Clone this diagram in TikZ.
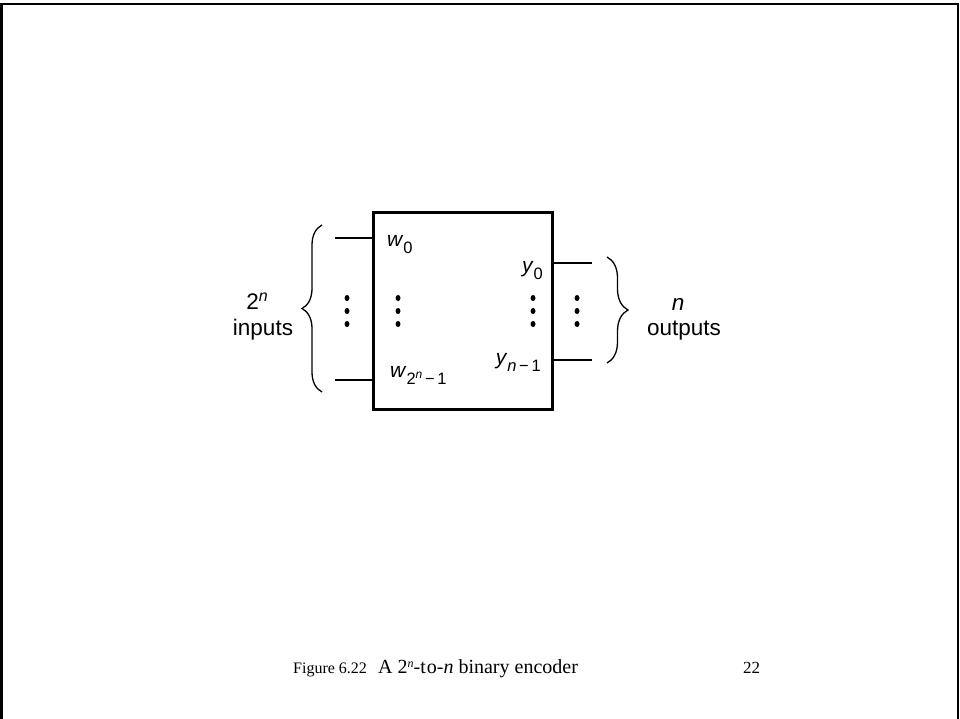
\documentclass[tikz,border=0pt]{standalone}
\usepackage{fontspec}
\setmainfont{Liberation Serif}
\setsansfont{Liberation Sans}
\usetikzlibrary{positioning,decorations.pathreplacing}
\newcommand\encsub[1]{\raisebox{-7pt}{\fontsize{16.5}{16.5}\selectfont #1}}
\newcommand\encsup[2]{\raisebox{#1}{\fontsize{#2}{#2}\selectfont\textit{n}}}
\tikzset{
  encframe/.style={line width=2.8pt},
  encbox/.style={draw, line width=3pt, minimum width=179pt, minimum height=196pt,
                 inner sep=0pt},
  encwire/.style={line width=1.3pt},
  encbrace/.style={decorate, decoration={brace, amplitude=#1}, line width=1.3pt},
  enclabel/.style={font=\sffamily\fontsize{21}{21}\selectfont, inner sep=0pt},
  encside/.style={font=\sffamily\fontsize{22.5}{26}\selectfont, inner sep=0pt,
                  anchor=base},
  enccap/.style={font=\rmfamily\fontsize{20}{20}\selectfont, inner sep=0pt,
                 anchor=base west},
}
\begin{document}
\begin{tikzpicture}[x=1pt,y=-1pt]
  \useasboundingbox (0,0) rectangle (960,719);
  \draw[encframe] (1.5,719) -- (1.5,4) -- (958,4) -- (958,719);

  % the encoder block
  \node[encbox] (enc) at (462.5,311) {};

  % wires in and out
  \coordinate (wfirst) at (335,238);
  \coordinate (wlast)  at (335,380);
  \coordinate (yfirst) at (592,263);
  \coordinate (ylast)  at (592,360);
  \draw[encwire] (wfirst) -- (wfirst -| enc.west);
  \draw[encwire] (wlast)  -- (wlast -| enc.west);
  \draw[encwire] (yfirst -| enc.east) -- (yfirst);
  \draw[encwire] (ylast -| enc.east)  -- (ylast);

  % pin names
  \node[enclabel,anchor=base west] (w0) at (387,247) {\textit{w}\encsub{0}};
  \node[enclabel,anchor=base west] (wn) at (390,377)
    {\textit{w}\encsub{2\encsup{6pt}{12}\,−\,1}};
  \node[enclabel,anchor=base east] (y0) at (543,272) {\textit{y}\encsub{0}};
  \node[enclabel,anchor=base east] (yn) at (541,364)
    {\textit{y}\encsub{\textit{n}\,−\,1}};

  % vertical dots
  \foreach \x in {347,398,533,577}
    \foreach \y in {298,311,324}
      {\fill (\x,\y) ellipse[x radius=2.5, y radius=3];}

  % braces and what they count
  \coordinate (lbrlo) at (322,392);
  \coordinate (lbrhi) at (322,225);
  \coordinate (rbrhi) at (607,257);
  \coordinate (rbrlo) at (607,363);
  \draw[encbrace=20pt] (lbrlo) -- (lbrhi);
  \draw[encbrace=21pt] (rbrhi) -- (rbrlo);
  \node[encside] (incount) at (257,309) {2\encsup{8pt}{16}};
  \node[encside] (inname)  at (263,335) {inputs};
  \node[encside] (outcount) at (678,310) {\textit{n}};
  \node[encside] (outname)  at (684,335) {outputs};

  % caption
  \node[enccap,font=\rmfamily\fontsize{16}{16}\selectfont] (fignum) at (293,673)
    {Figure 6.22};
  \node[enccap] (figtxt) at (378,673)
    {A 2\raisebox{6pt}{\fontsize{12}{12}\selectfont\textit{n}}-t\kern1pt o-\textit{n} binary encoder};
  \node[enccap,font=\rmfamily\fontsize{17}{17}\selectfont] (pagenum) at (743,673)
    {22};
\end{tikzpicture}
\end{document}
